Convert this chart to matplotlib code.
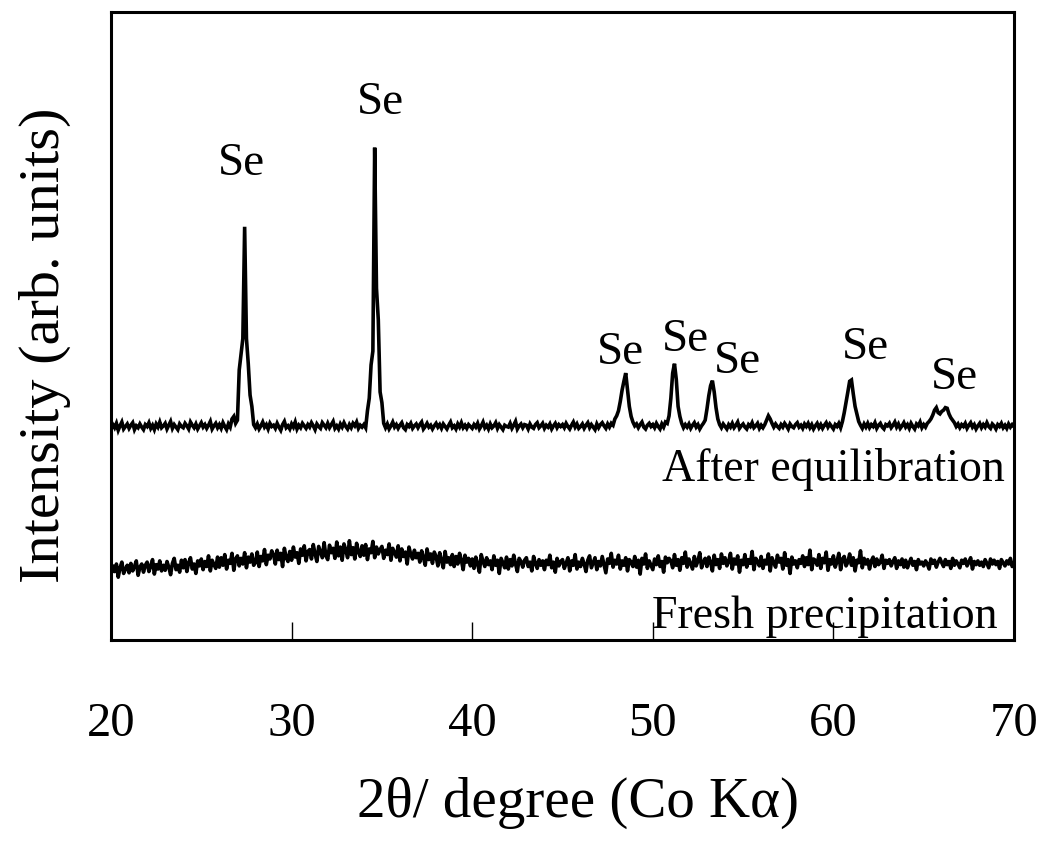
import numpy as np
import matplotlib.pyplot as plt

plt.rcParams['font.family'] = ['Liberation Serif', 'DejaVu Serif']

# 2theta grid, 0.1 degree step from 20 to 70
two_theta = np.round(np.arange(200, 701) / 10.0, 1)

# after equilibration, counts (10 points per degree)
after_counts = [
    336, 343, 338, 345, 334, 341, 347, 336, 340, 344,  # 20
    337, 342, 346, 335, 341, 338, 344, 339, 335, 343,  # 21
    340, 346, 337, 342, 335, 344, 339, 347, 338, 341,  # 22
    345, 336, 342, 348, 337, 343, 339, 335, 344, 340,  # 23
    338, 345, 341, 336, 347, 342, 338, 344, 336, 341,  # 24
    346, 339, 343, 337, 342, 348, 336, 341, 345, 338,  # 25
    343, 337, 346, 340, 335, 344, 339, 352, 356, 345,  # 26
    350, 430, 455, 480, 658, 480, 440, 390, 372, 343,  # 27
    338, 344, 336, 341, 347, 339, 343, 336, 345, 340,  # 28
    342, 337, 345, 339, 334, 343, 348, 338, 341, 336,  # 29
    344, 339, 347, 336, 342, 338, 345, 341, 337, 343,  # 30
    339, 346, 341, 335, 344, 340, 337, 346, 342, 338,  # 31
    345, 338, 343, 348, 337, 341, 336, 344, 339, 346,  # 32
    340, 336, 343, 338, 345, 341, 347, 337, 342, 339,  # 33
    343, 338, 365, 385, 438, 460, 784, 560, 510, 395,  # 34
    378, 345, 338, 344, 336, 341, 347, 339, 343, 337,  # 35
    342, 346, 338, 335, 343, 340, 345, 337, 341, 344,  # 36
    338, 343, 347, 336, 340, 345, 339, 342, 336, 341,  # 37
    345, 339, 343, 337, 344, 340, 336, 342, 347, 338,  # 38
    341, 336, 344, 339, 346, 338, 342, 337, 343, 340,  # 39
    337, 343, 339, 345, 336, 341, 347, 338, 342, 336,  # 40
    344, 338, 341, 346, 337, 343, 339, 335, 342, 340,  # 41
    339, 345, 337, 342, 348, 336, 341, 344, 338, 343,  # 42
    342, 336, 344, 339, 337, 343, 346, 338, 341, 345,  # 43
    337, 342, 339, 344, 336, 341, 345, 338, 343, 340,  # 44
    343, 338, 345, 340, 336, 342, 347, 339, 344, 337,  # 45
    340, 344, 337, 342, 346, 338, 343, 339, 335, 344,  # 46
    338, 343, 346, 341, 337, 344, 339, 345, 342, 352,  # 47
    357, 365, 380, 398, 412, 425, 398, 372, 356, 347,  # 48
    341, 344, 338, 343, 347, 339, 336, 342, 345, 340,  # 49
    343, 338, 345, 340, 336, 344, 339, 347, 345, 357,  # 50
    385, 425, 440, 415, 372, 356, 345, 338, 343, 339,  # 51
    344, 337, 342, 346, 339, 343, 336, 341, 345, 350,  # 52
    368, 389, 405, 413, 395, 370, 352, 343, 338, 344,  # 53
    340, 336, 343, 339, 345, 338, 342, 347, 337, 341,  # 54
    344, 339, 336, 343, 340, 346, 338, 341, 345, 337,  # 55
    342, 338, 343, 350, 357, 352, 345, 339, 344, 340,  # 56
    337, 343, 339, 345, 341, 336, 344, 340, 338, 343,  # 57
    346, 339, 342, 337, 344, 340, 345, 338, 343, 336,  # 58
    341, 345, 338, 343, 337, 342, 346, 339, 344, 340,  # 59
    336, 343, 340, 345, 338, 348, 362, 378, 395, 412,  # 60
    414, 392, 372, 360, 348, 342, 337, 344, 339, 345,  # 61
    338, 343, 340, 346, 337, 342, 345, 339, 336, 343,  # 62
    341, 345, 338, 342, 347, 339, 344, 337, 341, 346,  # 63
    339, 343, 337, 345, 340, 336, 344, 341, 347, 338,  # 64
    343, 339, 345, 348, 352, 358, 366, 370, 362, 360,  # 65
    364, 366, 370, 369, 360, 354, 350, 346, 340, 344,  # 66
    338, 343, 340, 345, 337, 342, 346, 339, 343, 336,  # 67
    341, 345, 338, 343, 339, 346, 340, 337, 344, 341,  # 68
    336, 343, 340, 345, 338, 342, 337, 344, 339, 343,  # 69
    340,
]

# fresh precipitate, amorphous hump around 32-34 deg
fresh_counts = [
    104, 118, 109, 121, 100, 115, 124, 106, 113, 119,  # 20
    107, 122, 110, 117, 126, 103, 116, 121, 108, 119,  # 21
    124, 109, 118, 128, 105, 120, 113, 126, 110, 119,  # 22
    111, 125, 116, 104, 122, 130, 112, 119, 108, 127,  # 23
    115, 128, 109, 123, 131, 113, 121, 106, 126, 118,  # 24
    129, 112, 125, 117, 134, 110, 127, 120, 114, 132,  # 25
    116, 131, 119, 136, 113, 127, 122, 138, 111, 129,  # 26
    134, 118, 130, 121, 139, 115, 132, 124, 137, 119,  # 27
    123, 140, 117, 133, 126, 144, 120, 135, 129, 142,  # 28
    136, 121, 143, 128, 138, 117, 146, 131, 125, 141,  # 29
    127, 148, 132, 139, 122, 145, 135, 150, 126, 141,  # 30
    144, 129, 152, 137, 125, 149, 140, 131, 155, 134,  # 31
    128, 151, 139, 146, 130, 156, 134, 148, 127, 153,  # 32
    143, 131, 158, 136, 147, 129, 154, 140, 133, 150,  # 33
    135, 152, 128, 145, 139, 157, 131, 148, 137, 144,  # 34
    149, 130, 143, 136, 153, 127, 146, 139, 132, 150,  # 35
    126, 145, 133, 140, 121, 148, 136, 129, 143, 131,  # 36
    138, 124, 142, 131, 119, 145, 128, 137, 122, 140,  # 37
    133, 118, 139, 126, 115, 141, 124, 131, 120, 136,  # 38
    117, 133, 121, 138, 127, 112, 135, 124, 130, 118,  # 39
    129, 114, 132, 121, 108, 136, 125, 117, 131, 120,  # 40
    126, 112, 134, 119, 127, 106, 130, 123, 115, 132,  # 41
    113, 128, 118, 135, 121, 109, 130, 125, 116, 127,  # 42
    131, 117, 124, 110, 133, 122, 114, 128, 119, 126,  # 43
    112, 127, 120, 135, 115, 124, 108, 130, 118, 125,  # 44
    128, 114, 122, 131, 110, 126, 119, 136, 113, 124,  # 45
    117, 130, 121, 109, 127, 134, 115, 123, 131, 112,  # 46
    125, 118, 133, 120, 107, 129, 122, 138, 116, 127,  # 47
    121, 135, 113, 126, 119, 131, 110, 128, 124, 117,  # 48
    133, 116, 127, 105, 130, 121, 137, 114, 126, 119,  # 49
    112, 129, 120, 134, 117, 125, 108, 132, 123, 130,  # 50
    126, 115, 136, 119, 128, 111, 131, 122, 140, 116,  # 51
    129, 121, 113, 133, 118, 126, 139, 115, 124, 130,  # 52
    117, 132, 124, 110, 135, 120, 128, 114, 137, 122,  # 53
    131, 118, 125, 138, 113, 129, 121, 134, 108, 127,  # 54
    120, 136, 116, 128, 122, 141, 112, 130, 125, 118,  # 55
    133, 114, 127, 121, 137, 110, 131, 123, 116, 135,  # 56
    124, 130, 113, 139, 119, 128, 106, 132, 121, 126,  # 57
    115, 128, 122, 134, 117, 131, 120, 143, 112, 129,  # 58
    127, 119, 136, 114, 130, 123, 140, 111, 128, 121,  # 59
    134, 116, 125, 138, 112, 129, 133, 118, 124, 137,  # 60
    119, 131, 110, 127, 123, 142, 115, 130, 121, 128,  # 61
    113, 126, 132, 117, 129, 120, 124, 135, 114, 127,  # 62
    122, 128, 118, 125, 131, 114, 126, 120, 129, 116,  # 63
    127, 115, 123, 130, 119, 125, 112, 128, 121, 124,  # 64
    118, 126, 121, 113, 129, 122, 127, 116, 124, 130,  # 65
    123, 117, 128, 120, 125, 114, 130, 119, 126, 121,  # 66
    115, 127, 122, 129, 118, 124, 131, 113, 125, 120,  # 67
    126, 119, 124, 117, 128, 122, 115, 129, 121, 127,  # 68
    120, 125, 114, 128, 123, 118, 126, 121, 130, 117,  # 69
    123,
]

# Se reflection labels: (2theta, height)
se_x = [27.25, 34.9, 48.2, 51.8, 54.7, 61.75, 66.7]
se_y = [759, 855, 458, 478, 443, 465, 417]

x_ticks = [20, 30, 40, 50, 60, 70]

fig = plt.figure(figsize=(10.43, 8.43), dpi=100)
ax = fig.add_axes([111 / 1043, 1 - 640 / 843, 903 / 1043, 628 / 843])

ax.plot(two_theta, after_counts, color='black', lw=2.6, solid_joinstyle='miter')
ax.plot(two_theta, fresh_counts, color='black', lw=2.6)

for sx, sy in zip(se_x, se_y):
    ax.text(sx, sy, 'Se', fontsize=34, ha='center', va='center')

ax.text(69.5, 271, 'After equilibration', fontsize=33, ha='right', va='center')
ax.text(69.1, 37, 'Fresh precipitation', fontsize=33, ha='right', va='center')

ax.set_xlim(20, 70)
ax.set_ylim(0, 1000)
ax.set_xticks(x_ticks)
ax.set_xticklabels([str(t) for t in x_ticks], fontsize=35)
ax.set_yticks([])
ax.tick_params(axis='x', direction='in', length=13, width=1.0, pad=45)

for sp in ax.spines.values():
    sp.set_linewidth(2.2)

fig.text(578 / 1043, 1 - 803 / 843, '2θ/ degree (Co Kα)', fontsize=41,
         ha='center', va='center')
fig.text(45 / 1043, 1 - 345 / 843, 'Intensity (arb. units)', fontsize=42,
         ha='center', va='center', rotation=90)

fig.savefig('out.png', dpi=100)
